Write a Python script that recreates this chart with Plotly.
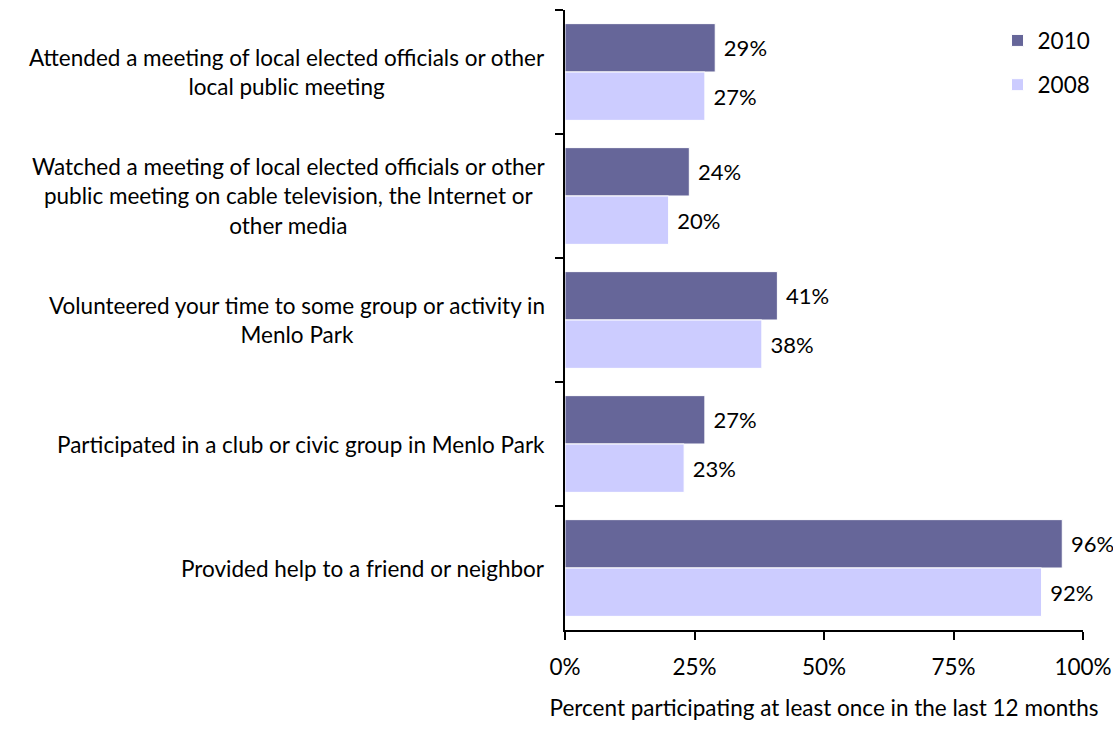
import plotly.graph_objects as go

categories = [
    "Attended a meeting of local elected officials or other<br>local public meeting",
    "Watched a meeting of local elected officials or other<br>public meeting on cable television, the Internet or<br>other media",
    "Volunteered your time to some group or activity in<br>Menlo Park",
    "Participated in a club or civic group in Menlo Park",
    "Provided help to a friend or neighbor",
]
values_2010 = [0.29, 0.24, 0.41, 0.27, 0.96]
values_2008 = [0.27, 0.20, 0.38, 0.23, 0.92]
x_ticks = [0, 0.25, 0.5, 0.75, 1.0]
x_ticklabels = ["0%", "25%", "50%", "75%", "100%"]

FONT = "Lato, 'Noto Sans', sans-serif"
FS = 22.5
LFS = 22
PAD = "\u00a0"

fig = go.Figure()
fig.add_trace(go.Bar(
    y=categories, x=values_2010, orientation="h", name="2010",
    marker=dict(color="#666699", line=dict(color="white", width=1)),
    text=[f"{PAD}{round(v*100)}%" for v in values_2010], textposition="outside",
    textfont=dict(size=LFS, color="black", family=FONT), cliponaxis=False,
    constraintext="none", legendgroup="a",
))
fig.add_trace(go.Bar(
    y=categories, x=values_2008, orientation="h", name="2008",
    marker=dict(color="#CCCCFF", line=dict(color="white", width=1)),
    text=[f"{PAD}{round(v*100)}%" for v in values_2008], textposition="outside",
    textfont=dict(size=LFS, color="black", family=FONT), cliponaxis=False,
    constraintext="none", legendgroup="b",
))

for c in categories:
    fig.add_annotation(
        x=0, xref="paper", y=c, yref="y", text=c, showarrow=False,
        xanchor="right", align="center", xshift=-18,
        font=dict(size=FS, color="black", family=FONT),
    )

fig.update_layout(
    width=1113, height=729, autosize=False,
    margin=dict(l=565, r=30, t=10, b=99, autoexpand=False),
    paper_bgcolor="white", plot_bgcolor="white",
    barmode="group", bargap=0.22, bargroupgap=0.0,
    font=dict(family=FONT, size=FS, color="black"),
    showlegend=True,
    legend=dict(x=0.835, y=0.985, xanchor="left", yanchor="top",
                font=dict(size=FS, family=FONT), tracegroupgap=12,
                traceorder="grouped", bgcolor="rgba(0,0,0,0)"),
    xaxis=dict(range=[0, 1], tickvals=x_ticks, ticktext=x_ticklabels,
               automargin=False,
               showgrid=False, zeroline=False, showline=True, linecolor="black",
               linewidth=2, ticks="outside", ticklen=8, tickwidth=2, tickcolor="black",
               ticklabelstandoff=8,
               tickfont=dict(size=FS, family=FONT),
               title=dict(text="Percent participating at least once in the last 12 months",
                          font=dict(size=FS, family=FONT), standoff=21)),
    yaxis=dict(autorange="reversed", automargin=False,
               showgrid=False, showline=True, linecolor="black",
               linewidth=2, ticks="outside", ticklen=8, tickwidth=2, tickcolor="black",
               tickson="boundaries", showticklabels=False),
)

fig.write_html("out.html",
               config={"displayModeBar": False, "responsive": False},
               post_script="document.body.style.margin='0';document.body.style.overflow='hidden';")
